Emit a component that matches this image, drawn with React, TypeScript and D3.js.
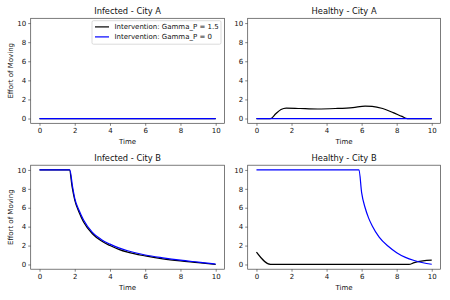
import * as d3 from "d3";
import { useEffect, useRef } from "react";

type Pt = [number, number];

const xTicks = [0, 2, 4, 6, 8, 10];
const yTicks = [0, 2, 4, 6, 8, 10];

const seriesNames = ["Intervention: Gamma_P = 1.5", "Intervention: Gamma_P = 0"];
const seriesColors = ["black", "blue"];

// Infected - City A
const infectedA_g15: Pt[] = [[0, 0], [10, 0]];
const infectedA_g0: Pt[] = [[0, 0], [10, 0]];

// Healthy - City A
const healthyA_g15: Pt[] = [
    [0, 0], [0.8, 0], [1.1, 0.5], [1.4, 0.95], [1.7, 1.1], [2.5, 1.05], [3.5, 1.0],
    [4.5, 1.05], [5.5, 1.15], [6.2, 1.3], [6.6, 1.28], [7.2, 1.05], [7.8, 0.62],
    [8.3, 0.22], [8.6, 0], [10, 0],
];
const healthyA_g0: Pt[] = [[0, 0], [10, 0]];

// Infected - City B
const infectedB_g15: Pt[] = [
    [0, 10], [1.7, 10], [1.85, 8.2], [2.0, 6.8], [2.25, 5.5], [2.5, 4.5], [3.0, 3.25],
    [3.5, 2.5], [4.0, 2.0], [4.5, 1.6], [5.0, 1.3], [6.0, 0.9], [7.0, 0.6],
    [8.0, 0.38], [9.0, 0.2], [10, 0.0],
];
const infectedB_g0: Pt[] = [
    [0, 10], [1.72, 10], [1.87, 8.3], [2.0, 7.0], [2.25, 5.7], [2.5, 4.7], [3.0, 3.4],
    [3.5, 2.65], [4.0, 2.15], [4.5, 1.75], [5.0, 1.45], [6.0, 1.0], [7.0, 0.7],
    [8.0, 0.45], [9.0, 0.25], [10, 0.05],
];

// Healthy - City B
const healthyB_g15: Pt[] = [
    [0, 1.3], [0.8, 0], [8.7, 0], [9.0, 0.2], [9.5, 0.38], [10, 0.45],
];
const healthyB_g0: Pt[] = [
    [0, 10], [5.85, 10], [6.0, 7.6], [6.2, 6.0], [6.4, 4.9], [6.6, 4.1], [7.0, 2.9],
    [7.5, 1.95], [8.0, 1.25], [8.5, 0.75], [9.0, 0.42], [9.5, 0.18], [10, 0.02],
];

const panels = [
    { title: "Infected - City A", series: [infectedA_g15, infectedA_g0], box: [30.7, 18.3, 224.5, 123.3], ylabel: true, legend: true },
    { title: "Healthy - City A", series: [healthyA_g15, healthyA_g0], box: [247.7, 18.3, 440.5, 123.3], ylabel: false, legend: false },
    { title: "Infected - City B", series: [infectedB_g15, infectedB_g0], box: [30.7, 165.2, 224.5, 269.2], ylabel: true, legend: false },
    { title: "Healthy - City B", series: [healthyB_g15, healthyB_g0], box: [247.7, 165.2, 440.5, 269.2], ylabel: false, legend: false },
];

const FONT = "DejaVu Sans";

export default function App() {
    const svgRef = useRef<SVGSVGElement>(null);
    const width = 450;
    const height = 300;

    useEffect(() => {
        const svg = d3.select(svgRef.current);
        svg.selectAll("*").remove();

        svg.append("rect").attr("width", width).attr("height", height).attr("fill", "white");

        panels.forEach(p => {
            const [x0, y0, x1, y1] = p.box;
            const xScale = d3.scaleLinear().domain([-0.5, 10.5]).range([x0, x1]);
            const yScale = d3.scaleLinear().domain([-0.5, 10.5]).range([y1, y0]);
            const g = svg.append("g");

            // lines
            const line = d3.line<Pt>()
                .x(d => xScale(d[0]))
                .y(d => yScale(d[1]))
                .curve(d3.curveMonotoneX);
            p.series.forEach((s, i) => {
                g.append("path")
                    .datum(s)
                    .attr("d", line)
                    .attr("fill", "none")
                    .attr("stroke", seriesColors[i])
                    .attr("stroke-width", 1.2);
            });

            // x axis
            const xAxis = g.append("g")
                .attr("transform", `translate(0,${y1})`)
                .call(d3.axisBottom(xScale).tickValues(xTicks).tickSize(2.5).tickPadding(2));
            xAxis.select(".domain").remove();
            xAxis.selectAll("line").attr("stroke", "#333").attr("stroke-width", 0.6);
            xAxis.selectAll("text").attr("font-family", FONT).attr("font-size", 7).attr("fill", "#111");

            // y axis
            const yAxis = g.append("g")
                .attr("transform", `translate(${x0},0)`)
                .call(d3.axisLeft(yScale).tickValues(yTicks).tickSize(2.5).tickPadding(2));
            yAxis.select(".domain").remove();
            yAxis.selectAll("line").attr("stroke", "#333").attr("stroke-width", 0.6);
            yAxis.selectAll("text").attr("font-family", FONT).attr("font-size", 7).attr("fill", "#111");

            // frame
            g.append("rect")
                .attr("x", x0).attr("y", y0)
                .attr("width", x1 - x0).attr("height", y1 - y0)
                .attr("fill", "none").attr("stroke", "#444").attr("stroke-width", 0.7);

            // title
            g.append("text")
                .attr("x", (x0 + x1) / 2).attr("y", y0 - 4)
                .attr("text-anchor", "middle")
                .attr("font-family", FONT).attr("font-size", 8.3).attr("fill", "#111")
                .text(p.title);

            // x label
            g.append("text")
                .attr("x", (x0 + x1) / 2).attr("y", y1 + 20.5)
                .attr("text-anchor", "middle")
                .attr("font-family", FONT).attr("font-size", 7).attr("fill", "#111")
                .text("Time");

            if (p.ylabel) {
                g.append("text")
                    .attr("transform", `translate(${x0 - 17.5},${(y0 + y1) / 2}) rotate(-90)`)
                    .attr("text-anchor", "middle")
                    .attr("font-family", FONT).attr("font-size", 7).attr("fill", "#111")
                    .text("Effort of Moving");
            }

            if (p.legend) {
                const lx = x1 - 132.5;
                const ly = y0 + 2.4;
                const leg = g.append("g");
                leg.append("rect")
                    .attr("x", lx).attr("y", ly)
                    .attr("width", 129).attr("height", 23.5)
                    .attr("rx", 1.5)
                    .attr("fill", "white").attr("fill-opacity", 0.8)
                    .attr("stroke", "#ccc").attr("stroke-width", 0.7);
                seriesNames.forEach((name, i) => {
                    const yy = ly + 6.2 + i * 10;
                    leg.append("line")
                        .attr("x1", lx + 3).attr("x2", lx + 17)
                        .attr("y1", yy).attr("y2", yy)
                        .attr("stroke", seriesColors[i]).attr("stroke-width", 1.2);
                    leg.append("text")
                        .attr("x", lx + 22.5).attr("y", yy + 2.5)
                        .attr("font-family", FONT).attr("font-size", 7).attr("fill", "#111")
                        .text(name);
                });
            }
        });
    }, []);

    return (
        <svg ref={svgRef} width={width} height={height} style={{ position: "absolute", left: 0, top: 0 }}>
        </svg>
    );
}
